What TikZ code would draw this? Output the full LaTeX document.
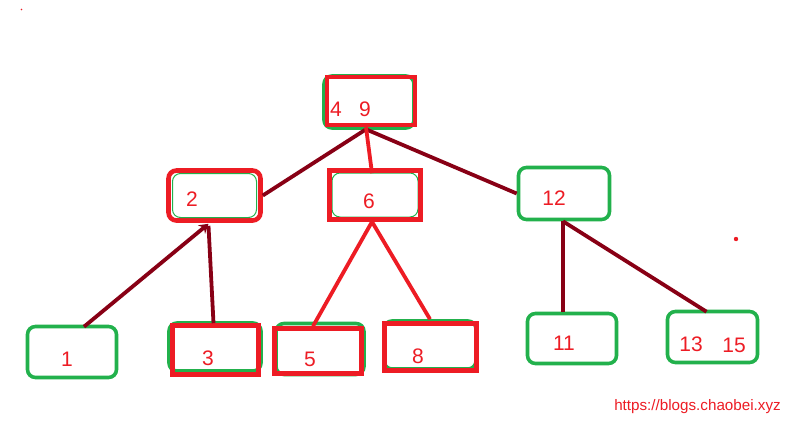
\documentclass[tikz,border=0pt]{standalone}
\usepackage{fontspec}
\setmainfont{Liberation Sans}
\usetikzlibrary{calc,arrows.meta}
\definecolor{pred}{HTML}{ED1C24}
\definecolor{pgreen}{HTML}{22B14C}
\definecolor{pdark}{HTML}{880015}
\tikzset{
  gbox/.style={draw=pgreen, line width=3.6bp, rounded corners=8bp, inner sep=0pt},
  rbox/.style={draw=pred, line width=4.6bp, inner sep=0pt},
  rrbox/.style={draw=pred, line width=4.6bp, rounded corners=8bp, inner sep=0pt},
  num/.style={text=pred, font=\fontsize{21bp}{24bp}\selectfont, inner sep=0pt, anchor=base},
  dline/.style={draw=pdark, line width=3.8bp},
  rline/.style={draw=pred, line width=3.8bp},
}
\begin{document}
\begin{tikzpicture}[x=1bp,y=-1bp]
\useasboundingbox[fill=white] (0,0) rectangle (792,424);
% root
\node[gbox, minimum width=90bp, minimum height=52bp] (rootg) at (369,102) {};
\node[rbox, minimum width=88bp, minimum height=48bp] (root) at (371,101) {};
\node[num] (t4) at (336,116) {4};
\node[num] (t9) at (365,116) {9};
% level 1
\node[rrbox, minimum width=92bp, minimum height=50bp] (n2) at (214.5,195.5) {};
\node[gbox, line width=1bp, minimum width=84bp, minimum height=44bp] (n2g) at (214.5,195.5) {};
\node[num] (t2) at (192,206) {2};
\node[gbox, line width=1bp, minimum width=86bp, minimum height=44bp] (n6g) at (375,195) {};
\node[rbox, minimum width=91bp, minimum height=49bp] (n6) at (375,195) {};
\node[num] (t6) at (369,208) {6};
\node[gbox, minimum width=91bp, minimum height=52bp] (n12) at (564,193.5) {};
\node[num] (t12) at (554,205) {12};
% level 2
\node[gbox, minimum width=89bp, minimum height=51bp] (n1) at (72,352) {};
\node[num] (t1) at (67,366) {1};
\node[gbox, minimum width=92bp, minimum height=48bp] (n3g) at (215,347) {};
\node[rbox, minimum width=86bp, minimum height=49bp] (n3) at (215.5,350) {};
\node[num] (t3) at (208,365) {3};
\node[gbox, minimum width=88bp, minimum height=51bp] (n5g) at (320,349) {};
\node[rbox, minimum width=87bp, minimum height=45bp] (n5) at (318,351) {};
\node[num] (t5) at (310,366) {5};
\node[gbox, minimum width=92bp, minimum height=48bp] (n8g) at (430,345) {};
\node[rbox, minimum width=92bp, minimum height=47bp] (n8) at (430.5,347) {};
\node[num] (t8) at (418,363) {8};
\node[gbox, minimum width=89bp, minimum height=50bp] (n11) at (572,338.5) {};
\node[num] (t11) at (564,350) {11};
\node[gbox, minimum width=90bp, minimum height=51bp] (n13) at (712.5,337) {};
\node[num] (t13) at (691,351) {13};
\node[num] (t15) at (734,352) {15};
% edges
\draw[dline] ($(root.south)+(-5,2)$) -- (n2.east);
\draw[dline] ($(root.south)+(-5,2)$) -- (n12.west);
\draw[rline] ($(root.south)+(-5,0)$) -- ($(n6.north)+(-3,5)$);
\draw[dline, -{Stealth[length=9bp,width=11bp]}] ($(n1.north)+(12,2)$) -- ($(n2.south)+(-6,1)$);
\draw[dline] ($(n3.north)+(-2,0)$) -- ($(n2.south)+(-6,3)$);
\draw[rline] ($(n6.south)+(-3,0)$) -- ($(n5.north)+(-5,0)$);
\draw[rline] ($(n6.south)+(-3,0)$) -- ($(n8.north)+(-0.5,-2)$);
\draw[dline] ($(n12.south)+(-1,0)$) -- ($(n11.north)+(-9,0)$);
\draw[dline] ($(n12.south)+(-1,0)$) -- ($(n13.north)+(-6,2)$);
% url and marks
\node[text=pred, font=\fontsize{15.2bp}{18bp}\selectfont, inner sep=0pt, anchor=base] (url) at (697.5,410) {https://blogs.chaobei.xyz};
\fill[pred] (736,239) circle (2.2bp);
\fill[pred] (21.5,9.5) circle (0.8bp);
\end{tikzpicture}
\end{document}
